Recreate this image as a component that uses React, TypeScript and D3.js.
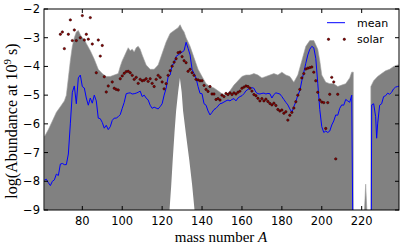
import React from 'react';
import * as d3 from 'd3';

// upper edge of the grey band of runs (log abundance), NaN = no runs there
const bandA = [61, 63, 65, 67, 69, 71, 72, 73, 74, 75, 76, 77, 78, 79, 80, 81, 82, 84, 86, 88, 90, 92, 94, 96, 98, 99, 100, 101, 102, 103, 104, 105, 106, 107, 108, 109, 110, 112, 114, 116, 118, 120, 122, 124, 126, 128, 129, 130, 131, 132, 134, 136, 138, 140, 142, 144, 146, 148, 150, 152, 154, 156, 158, 160, 162, 164, 166, 168, 170, 172, 174, 176, 178, 180, 182, 184, 186, 188, 190, 192, 194, 196, 198, 199, 200, 202, 204, 206, 208, 210, 212, 214, 215, 215.8, 216, 221.4, 222, 222.6, 223, 224.6, 226, 228, 230, 232, 234, 236, 238, 239];
const bandTop = [-6.45, -6.2, -5.9, -5.6, -5.4, -5.2, -5.0, -4.4, -3.8, -3.3, -3.0, -2.8, -2.75, -2.9, -3.0, -3.05, -3.2, -3.45, -3.75, -4.1, -4.25, -4.35, -4.35, -4.3, -4.25, -4.0, -3.8, -3.65, -3.5, -3.35, -3.45, -3.4, -3.5, -3.35, -3.3, -3.4, -3.6, -3.95, -4.1, -4.1, -3.95, -3.55, -3.15, -2.85, -2.75, -2.65, -2.55, -2.7, -2.8, -3.0, -3.3, -3.7, -4.1, -4.35, -4.6, -4.7, -4.75, -4.85, -4.95, -5.0, -4.85, -4.65, -4.5, -4.35, -4.3, -4.3, -4.25, -4.3, -4.4, -4.35, -4.3, -4.25, -4.3, -4.2, -4.3, -4.35, -4.55, -4.3, -3.8, -3.3, -3.1, -3.1, -3.4, -3.8, -4.3, -4.55, -4.6, -4.6, -4.7, -4.65, -4.6, -4.4, -4.2, -4.2, NaN, -9, -8.1, -9, NaN, -4.7, -4.5, -4.35, -4.25, -4.15, -4.1, -4.0, -3.95, -3.95];

// white hole under the A=130 peak
const holeA = [123.5, 124.5, 125.3, 126.2, 127, 128, 128.9, 129.8, 130.5, 132, 133.6, 135, 136.5];
const holeTop = [-9.2, -8.2, -7.26, -6.3, -5.55, -4.9, -4.4, -4.9, -5.55, -6.4, -7.26, -8.1, -9.2];

// mean of the runs
const meanA = [61, 62, 63, 64, 65, 66, 67, 68, 69, 70, 71, 72, 73, 74, 75, 76, 77, 78, 79, 80, 81, 82, 83, 84, 85, 86, 87, 88, 89, 90, 91, 92, 93, 94, 95, 96, 97, 98, 99, 100, 101, 102, 103, 104, 105, 106, 107, 108, 109, 110, 111, 112, 113, 114, 115, 116, 117, 118, 119, 120, 121, 122, 123, 124, 125, 126, 127, 128, 129, 130, 131, 132, 133, 134, 135, 136, 137, 138, 139, 140, 141, 142, 143, 144, 145, 146, 147, 148, 149, 150, 151, 152, 153, 154, 155, 156, 157, 158, 159, 160, 161, 162, 163, 164, 165, 166, 167, 168, 169, 170, 171, 172, 173, 174, 175, 176, 177, 178, 179, 180, 181, 182, 183, 184, 185, 186, 187, 188, 189, 190, 191, 192, 193, 194, 195, 196, 197, 198, 199, 200, 201, 202, 203, 204, 205, 206, 207, 208, 209, 210, 211, 212, 213, 214, 215, 215.6, 224.8, 225, 226, 227, 227.5, 228, 229, 230, 231, 232, 233, 234, 235, 236, 237, 238, 239];
const meanLog = [-7.96, -7.93, -8.05, -8.15, -8.0, -7.95, -7.75, -7.8, -7.4, -7.38, -7.42, -7.42, -7.05, -6.0, -4.9, -4.68, -5.3, -4.4, -4.3, -4.7, -4.75, -5.1, -5.35, -5.1, -5.28, -5.0, -5.2, -5.8, -5.82, -5.95, -6.15, -6.05, -6.2, -6.1, -5.88, -5.8, -5.8, -5.75, -5.68, -5.46, -5.25, -4.95, -4.93, -4.92, -4.96, -4.95, -4.93, -4.9, -4.86, -5.05, -5.0, -5.1, -5.17, -5.35, -5.46, -5.42, -5.45, -5.48, -5.4, -5.3, -5.0, -4.76, -4.36, -4.3, -3.95, -3.9, -3.65, -3.6, -3.55, -3.5, -3.45, -3.16, -3.37, -3.6, -4.1, -4.25, -4.41, -4.7, -4.94, -4.95, -5.3, -5.35, -5.55, -5.69, -5.6, -5.5, -5.46, -5.38, -5.3, -5.28, -5.24, -5.2, -5.17, -5.2, -5.15, -5.12, -5.2, -5.1, -5.05, -5.02, -4.95, -4.85, -4.8, -4.76, -4.74, -4.76, -4.9, -4.95, -4.96, -4.94, -4.93, -4.96, -4.94, -4.95, -5.1, -4.98, -4.92, -4.94, -4.96, -5.05, -5.15, -5.25, -5.34, -5.48, -5.6, -5.4, -5.23, -5.0, -4.85, -4.5, -4.2, -3.89, -3.6, -3.4, -3.3, -3.35, -3.72, -4.6, -5.5, -6.1, -6.3, -6.25, -6.3, -6.25, -6.04, -5.9, -5.69, -5.7, -5.46, -5.34, -5.35, -5.15, -5.2, -5.25, -5.0, -10, -10, -5.34, -5.3, -5.75, -6.5, -6.0, -5.35, -5.3, -5.05, -5.02, -4.93, -4.97, -4.9, -4.78, -4.72, -4.7, -4.68];

// solar abundances
const solarA = [69, 70, 71, 73, 74, 75, 76, 77, 79, 80, 81, 82, 83, 84, 85, 87, 88, 89, 90, 91, 92, 93, 95, 96, 97, 98, 99, 100, 101, 102, 103, 104, 105, 106, 107, 108, 109, 110, 111, 112, 113, 114, 115, 116, 117, 118, 119, 120, 121, 122, 123, 124, 125, 126, 127, 128, 129, 130, 131, 132, 133, 134, 135, 136, 137, 138, 139, 140, 141, 142, 143, 144, 145, 146, 147, 148, 149, 150, 151, 152, 153, 154, 155, 156, 157, 158, 159, 160, 161, 162, 163, 164, 165, 166, 167, 168, 169, 170, 171, 172, 173, 174, 175, 176, 177, 178, 179, 180, 181, 182, 183, 184, 185, 186, 187, 188, 189, 190, 191, 192, 193, 194, 195, 196, 197, 198, 199, 200, 201, 202, 203, 204, 205, 206, 207, 208];
const solarLog = [-2.88, -2.8, -3.38, -2.88, -2.38, -3.1, -2.73, -3.1, -3.0, -2.23, -3.08, -2.88, -3.05, -2.3, -3.22, -4.22, -3.08, -3.64, -3.27, -4.36, -4.89, -4.68, -4.54, -4.76, -4.8, -4.82, -4.43, -4.33, -4.24, -4.18, -4.17, -4.22, -4.31, -4.45, -4.38, -4.59, -4.45, -4.5, -4.48, -4.43, -4.52, -4.43, -4.59, -4.7, -4.45, -4.31, -4.38, -4.54, -4.78, -4.6, -4.31, -4.15, -3.99, -3.85, -3.73, -3.52, -3.5, -3.66, -3.8, -3.87, -4.17, -4.1, -4.22, -4.31, -4.45, -4.47, -4.5, -4.5, -4.66, -4.8, -4.87, -4.7, -4.96, -4.96, -5.15, -5.12, -5.17, -5.0, -5.05, -4.94, -4.98, -4.92, -4.98, -4.92, -4.96, -4.9, -4.86, -4.76, -4.72, -4.68, -4.7, -4.76, -4.86, -4.98, -5.02, -5.11, -5.2, -5.12, -5.2, -5.14, -5.22, -5.29, -5.34, -5.28, -5.36, -5.5, -5.55, -5.52, -5.63, -5.58, -5.87, -5.7, -5.6, -5.45, -5.23, -5.0, -4.8, -4.4, -4.25, -4.09, -4.06, -4.04, -4.02, -4.2, -4.5, -4.9, -5.17, -5.24, -5.26, -6.16, -5.26, -4.97, -4.38, -4.54, -7.22, -4.97];

const xTicks = [80, 100, 120, 140, 160, 180, 200, 220];
const yTicks = [-9, -8, -7, -6, -5, -4, -3, -2];

const W = 407, H = 244;
const L = 44, R = 399, T = 9, B = 210;

export default function App() {
  const x = d3.scaleLinear().domain([60.8, 238.7]).range([L, R]);
  const y = d3.scaleLinear().domain([-9, -2]).range([B, T]);

  const band = d3.area<number>()
    .defined(i => !isNaN(bandTop[i]))
    .x(i => x(bandA[i]))
    .y0(y(-9))
    .y1(i => y(bandTop[i]));

  const hole = d3.area<number>()
    .x(i => x(holeA[i]))
    .y0(y(-9.5))
    .y1(i => y(holeTop[i]));

  const meanLine = d3.line<number>()
    .x(i => x(meanA[i]))
    .y(i => y(meanLog[i]));

  const sans = 'DejaVu Sans, sans-serif';
  const serif = 'Liberation Serif, serif';

  return (
    <svg width={W} height={H} style={{position: 'fixed', left: 0, top: 0}}>
      <defs>
        <clipPath id="plot"><rect x={L} y={T} width={R - L} height={B - T} /></clipPath>
      </defs>
      <rect width={W} height={H} fill="#fff" />
      <g clipPath="url(#plot)">
        <path d={band(d3.range(bandA.length)) || ''} fill="#818181" stroke="#a0a0a0" strokeWidth={0.6} />
        <path d={hole(d3.range(holeA.length)) || ''} fill="#fff" />
        <path d={meanLine(d3.range(meanA.length)) || ''} fill="none" stroke="#0000ff" strokeWidth={1} />
        {solarA.map((a, i) =>
          <circle key={i} cx={x(a)} cy={y(solarLog[i])} r={1.2} fill="#8b0000" stroke="#200" strokeWidth={0.5} />
        )}
      </g>
      <rect x={L} y={T} width={R - L} height={B - T} fill="none" stroke="#000" strokeWidth={1} />
      {xTicks.map(t =>
        <g key={t}>
          <line x1={x(t)} x2={x(t)} y1={B} y2={B - 4} stroke="#000" />
          <line x1={x(t)} x2={x(t)} y1={T} y2={T + 4} stroke="#000" />
          <text x={x(t)} y={225} textAnchor="middle" fontFamily={sans} fontSize={11.5}>{t}</text>
        </g>
      )}
      {yTicks.map(t =>
        <g key={t}>
          <line x1={L} x2={L + 4} y1={y(t)} y2={y(t)} stroke="#000" />
          <line x1={R} x2={R - 4} y1={y(t)} y2={y(t)} stroke="#000" />
          <text x={40} y={y(t) + 4} textAnchor="end" fontFamily={sans} fontSize={11.5}>{'\u2212' + Math.abs(t)}</text>
        </g>
      )}
      <text x={221} y={242} textAnchor="middle" fontFamily={serif} fontSize={15}>
        mass number <tspan fontStyle="italic">A</tspan>
      </text>
      <text transform="translate(17,121) rotate(-90)" textAnchor="middle" fontFamily={serif} fontSize={16}>
        log(Abundance at 10<tspan fontSize={11} dy={-6}>9</tspan><tspan dy={6}> s)</tspan>
      </text>
      <line x1={327} x2={345} y1={22.7} y2={22.7} stroke="#0000ff" strokeWidth={1} />
      <text x={357} y={26.7} fontFamily={sans} fontSize={11}>mean</text>
      <circle cx={328.5} cy={39.3} r={1.2} fill="#8b0000" stroke="#200" strokeWidth={0.5} />
      <circle cx={344.3} cy={39.3} r={1.2} fill="#8b0000" stroke="#200" strokeWidth={0.5} />
      <text x={357} y={43.3} fontFamily={sans} fontSize={11}>solar</text>
    </svg>
  );
}
